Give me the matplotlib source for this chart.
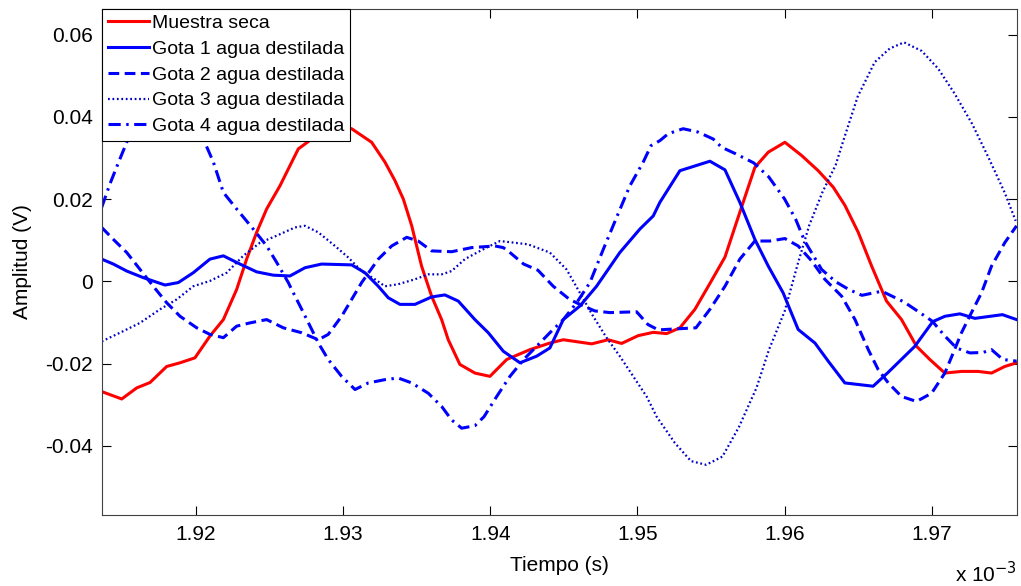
import numpy as np
import matplotlib
matplotlib.use("Agg")
import matplotlib.pyplot as plt

plt.rcParams['font.family'] = ['Liberation Sans', 'DejaVu Sans']

# tiempos en ms (el eje se rotula con el factor x 10^-3 s) y amplitudes en V
t_seca = [1.91362, 1.91498, 1.91600, 1.91690, 1.91803, 1.91894, 1.91995, 1.92097,
          1.92188, 1.92278, 1.92346, 1.92414, 1.92482, 1.92572, 1.92640, 1.92697,
          1.92788, 1.92878, 1.92959, 1.93059, 1.93195, 1.93285, 1.93353, 1.93410,
          1.93467, 1.93534, 1.93602, 1.93670, 1.93715, 1.93794, 1.93896, 1.93998,
          1.94112, 1.94270, 1.94405, 1.94496, 1.94689, 1.94801, 1.94892, 1.95005,
          1.95107, 1.95198, 1.95288, 1.95390, 1.95492, 1.95594, 1.95695, 1.95797,
          1.95888, 1.96001, 1.96114, 1.96227, 1.96329, 1.96408, 1.96499, 1.96590,
          1.96691, 1.96793, 1.96895, 1.96985, 1.97087, 1.97200, 1.97313, 1.97404,
          1.97494, 1.97574]
v_seca = [-0.0268, -0.0286, -0.0259, -0.0246, -0.0207, -0.0198, -0.0186, -0.0133,
          -0.0093, -0.0020, 0.0054, 0.0119, 0.0176, 0.0232, 0.0281, 0.0322,
          0.0346, 0.0363, 0.0376, 0.0371, 0.0338, 0.0290, 0.0245, 0.0200,
          0.0135, 0.0037, -0.0036, -0.0093, -0.0142, -0.0202, -0.0223, -0.0231,
          -0.0190, -0.0166, -0.0150, -0.0142, -0.0152, -0.0142, -0.0151, -0.0132,
          -0.0124, -0.0127, -0.0113, -0.0068, -0.0005, 0.0059, 0.0168, 0.0277,
          0.0314, 0.0338, 0.0306, 0.0269, 0.0229, 0.0185, 0.0119, 0.0037,
          -0.0048, -0.0093, -0.0158, -0.0190, -0.0223, -0.0219, -0.0219, -0.0223,
          -0.0207, -0.0198]

t_gota1 = [1.91362, 1.91441, 1.91532, 1.91644, 1.91792, 1.91882, 1.91984, 1.92097,
           1.92188, 1.92301, 1.92414, 1.92527, 1.92640, 1.92742, 1.92855, 1.93059,
           1.93149, 1.93240, 1.93308, 1.93387, 1.93489, 1.93602, 1.93692, 1.93783,
           1.93896, 1.93987, 1.94089, 1.94202, 1.94315, 1.94405, 1.94496, 1.94609,
           1.94722, 1.94880, 1.95016, 1.95107, 1.95152, 1.95288, 1.95492, 1.95594,
           1.95695, 1.95797, 1.95888, 1.95989, 1.96091, 1.96205, 1.96295, 1.96408,
           1.96600, 1.96700, 1.96883, 1.97005, 1.97087, 1.97189, 1.97291, 1.97478,
           1.97574]
v_gota1 = [0.0054, 0.0042, 0.0025, 0.0009, -0.0009, -0.0003, 0.0021, 0.0054,
           0.0062, 0.0042, 0.0023, 0.0015, 0.0013, 0.0033, 0.0042, 0.0040,
           0.0021, -0.0012, -0.0040, -0.0056, -0.0056, -0.0038, -0.0033, -0.0048,
           -0.0093, -0.0125, -0.0170, -0.0198, -0.0182, -0.0162, -0.0093, -0.0060,
           -0.0012, 0.0070, 0.0127, 0.0159, 0.0192, 0.0269, 0.0292, 0.0271,
           0.0192, 0.0102, 0.0037, -0.0028, -0.0117, -0.0150, -0.0194, -0.0247,
           -0.0255, -0.0222, -0.0158, -0.0098, -0.0085, -0.0079, -0.0090, -0.0081,
           -0.0093]

t_gota2 = [1.91362, 1.91441, 1.91532, 1.91622, 1.91712, 1.91803, 1.91894, 1.92007,
           1.92097, 1.92188, 1.92278, 1.92369, 1.92482, 1.92595, 1.92720, 1.92833,
           1.92900, 1.92991, 1.93127, 1.93240, 1.93331, 1.93433, 1.93511, 1.93602,
           1.93738, 1.93874, 1.94032, 1.94089, 1.94134, 1.94227, 1.94324, 1.94428,
           1.94539, 1.94632, 1.94711, 1.94813, 1.94994, 1.95071, 1.95141, 1.95397,
           1.95492, 1.95594, 1.95695, 1.95797, 1.95899, 1.96001, 1.96091, 1.96182,
           1.96272, 1.96386, 1.96477, 1.96567, 1.96635, 1.96703, 1.96793, 1.96895,
           1.96997, 1.97087, 1.97144, 1.97200, 1.97268, 1.97336, 1.97404, 1.97494,
           1.97574]
v_gota2 = [0.0131, 0.0102, 0.0070, 0.0029, -0.0012, -0.0052, -0.0085, -0.0113,
           -0.0129, -0.0137, -0.0109, -0.0101, -0.0093, -0.0113, -0.0125, -0.0142,
           -0.0129, -0.0085, -0.0003, 0.0054, 0.0086, 0.0107, 0.0098, 0.0074,
           0.0072, 0.0082, 0.0086, 0.0082, 0.0070, 0.0042, 0.0027, -0.0012,
           -0.0044, -0.0060, -0.0072, -0.0076, -0.0074, -0.0105, -0.0118, -0.0113,
           -0.0068, -0.0012, 0.0054, 0.0098, 0.0098, 0.0104, 0.0086, 0.0050,
           0.0005, -0.0036, -0.0093, -0.0166, -0.0215, -0.0247, -0.0280, -0.0292,
           -0.0272, -0.0223, -0.0174, -0.0125, -0.0076, -0.0028, 0.0037, 0.0094,
           0.0135]

t_gota3 = [1.91362, 1.91486, 1.91622, 1.91758, 1.91871, 1.91984, 1.92097, 1.92211,
           1.92323, 1.92437, 1.92550, 1.92674, 1.92742, 1.92833, 1.92946, 1.93036,
           1.93127, 1.93217, 1.93285, 1.93375, 1.93489, 1.93579, 1.93670, 1.93738,
           1.93828, 1.93916, 1.93975, 1.94066, 1.94256, 1.94405, 1.94518, 1.94609,
           1.94699, 1.94790, 1.94880, 1.94971, 1.95062, 1.95130, 1.95254, 1.95363,
           1.95466, 1.95577, 1.95689, 1.95808, 1.95893, 1.95999, 1.96088, 1.96165,
           1.96255, 1.96346, 1.96395, 1.96495, 1.96611, 1.96713, 1.96810, 1.96930,
           1.97042, 1.97154, 1.97272, 1.97382, 1.97493, 1.97568]
v_gota3 = [-0.0146, -0.0125, -0.0101, -0.0068, -0.0044, -0.0012, 0.0001, 0.0021,
           0.0062, 0.0094, 0.0111, 0.0131, 0.0135, 0.0119, 0.0086, 0.0058,
           0.0025, 0.0005, -0.0012, -0.0007, 0.0005, 0.0017, 0.0017, 0.0025,
           0.0054, 0.0071, 0.0082, 0.0098, 0.0090, 0.0070, 0.0029, -0.0028,
           -0.0085, -0.0137, -0.0182, -0.0231, -0.0280, -0.0329, -0.0393, -0.0437,
           -0.0446, -0.0426, -0.0354, -0.0259, -0.0166, -0.0073, 0.0042, 0.0135,
           0.0216, 0.0283, 0.0339, 0.0449, 0.0533, 0.0566, 0.0581, 0.0560,
           0.0517, 0.0456, 0.0383, 0.0302, 0.0216, 0.0147]

t_gota4 = [1.91362, 1.91418, 1.91486, 1.91532, 1.91622, 1.91792, 1.91961, 1.92052,
           1.92120, 1.92188, 1.92278, 1.92391, 1.92482, 1.92550, 1.92629, 1.92652,
           1.92720, 1.92788, 1.92833, 1.92900, 1.92991, 1.93082, 1.93172, 1.93285,
           1.93375, 1.93467, 1.93579, 1.93670, 1.93738, 1.93806, 1.93896, 1.93958,
           1.94044, 1.94134, 1.94227, 1.94315, 1.94405, 1.94496, 1.94587, 1.94677,
           1.94768, 1.94867, 1.94948, 1.95039, 1.95092, 1.95152, 1.95209, 1.95310,
           1.95410, 1.95514, 1.95571, 1.95667, 1.95789, 1.95891, 1.95999, 1.96074,
           1.96135, 1.96250, 1.96346, 1.96436, 1.96524, 1.96659, 1.96809, 1.96917,
           1.97002, 1.97087, 1.97166, 1.97257, 1.97345, 1.97404, 1.97481, 1.97574]
v_gota4 = [0.0180, 0.0237, 0.0298, 0.0338, 0.0420, 0.0456, 0.0420, 0.0346,
           0.0290, 0.0216, 0.0176, 0.0127, 0.0086, 0.0046, -0.0003, -0.0020,
           -0.0068, -0.0117, -0.0150, -0.0190, -0.0231, -0.0263, -0.0247, -0.0239,
           -0.0235, -0.0247, -0.0272, -0.0304, -0.0337, -0.0357, -0.0351, -0.0329,
           -0.0280, -0.0231, -0.0190, -0.0158, -0.0125, -0.0093, -0.0052, -0.0003,
           0.0078, 0.0163, 0.0232, 0.0290, 0.0330, 0.0342, 0.0359, 0.0371,
           0.0363, 0.0346, 0.0326, 0.0310, 0.0288, 0.0254, 0.0200, 0.0151,
           0.0098, 0.0029, -0.0001, -0.0020, -0.0034, -0.0024, -0.0050, -0.0076,
           -0.0097, -0.0133, -0.0162, -0.0174, -0.0173, -0.0166, -0.0190, -0.0194]

etiquetas = ['Muestra seca', 'Gota 1 agua destilada', 'Gota 2 agua destilada',
             'Gota 3 agua destilada', 'Gota 4 agua destilada']

fig = plt.figure(figsize=(10.21, 5.86), dpi=100)
ax = fig.add_axes([0.1002, 0.1212, 0.8956, 0.8634])

ax.plot(t_seca, v_seca, color='red', lw=2.2, label=etiquetas[0])
ax.plot(t_gota1, v_gota1, color='blue', lw=2.2, label=etiquetas[1])
ax.plot(t_gota2, v_gota2, color='blue', lw=2.2, linestyle=(0, (3.5, 1.8)), label=etiquetas[2])
ax.plot(t_gota3, v_gota3, color='#0000c8', lw=1.6, linestyle=(0, (0.8, 1.2)), label=etiquetas[3])
ax.plot(t_gota4, v_gota4, color='blue', lw=2.2, linestyle=(0, (4.0, 1.8, 0.8, 1.8)), label=etiquetas[4])

ax.set_xlim(1.91366, 1.97575)
ax.set_ylim(-0.0568, 0.0662)

xt = [1.92, 1.93, 1.94, 1.95, 1.96, 1.97]
yt = [-0.04, -0.02, 0, 0.02, 0.04, 0.06]
ax.set_xticks(xt)
ax.set_xticklabels(['%.2f' % x for x in xt])
ax.set_yticks(yt)
ax.set_yticklabels(['0' if y == 0 else ('%.2f' % y) for y in yt])
ax.tick_params(direction='in', length=6.5, width=0.8, top=True, right=True,
               labelsize=15, pad=7, colors='black')
for s in ax.spines.values():
    s.set_linewidth(0.8)
    s.set_color('#404040')

ax.set_xlabel('Tiempo (s)', fontsize=15, labelpad=9)
ax.set_ylabel('Amplitud (V)', fontsize=15, labelpad=9)
ax.text(1.0, -0.115, 'x 10$^{-3}$', transform=ax.transAxes, ha='right', va='center',
        fontsize=15)

leg = ax.legend(loc='upper left', fontsize=14, frameon=True, fancybox=False,
                framealpha=1, borderaxespad=0, handlelength=2.1, handletextpad=0.2,
                labelspacing=0.42, borderpad=0.28)
leg.get_frame().set_edgecolor('black')
leg.get_frame().set_linewidth(0.8)

fig.savefig('out.png', dpi=100)
